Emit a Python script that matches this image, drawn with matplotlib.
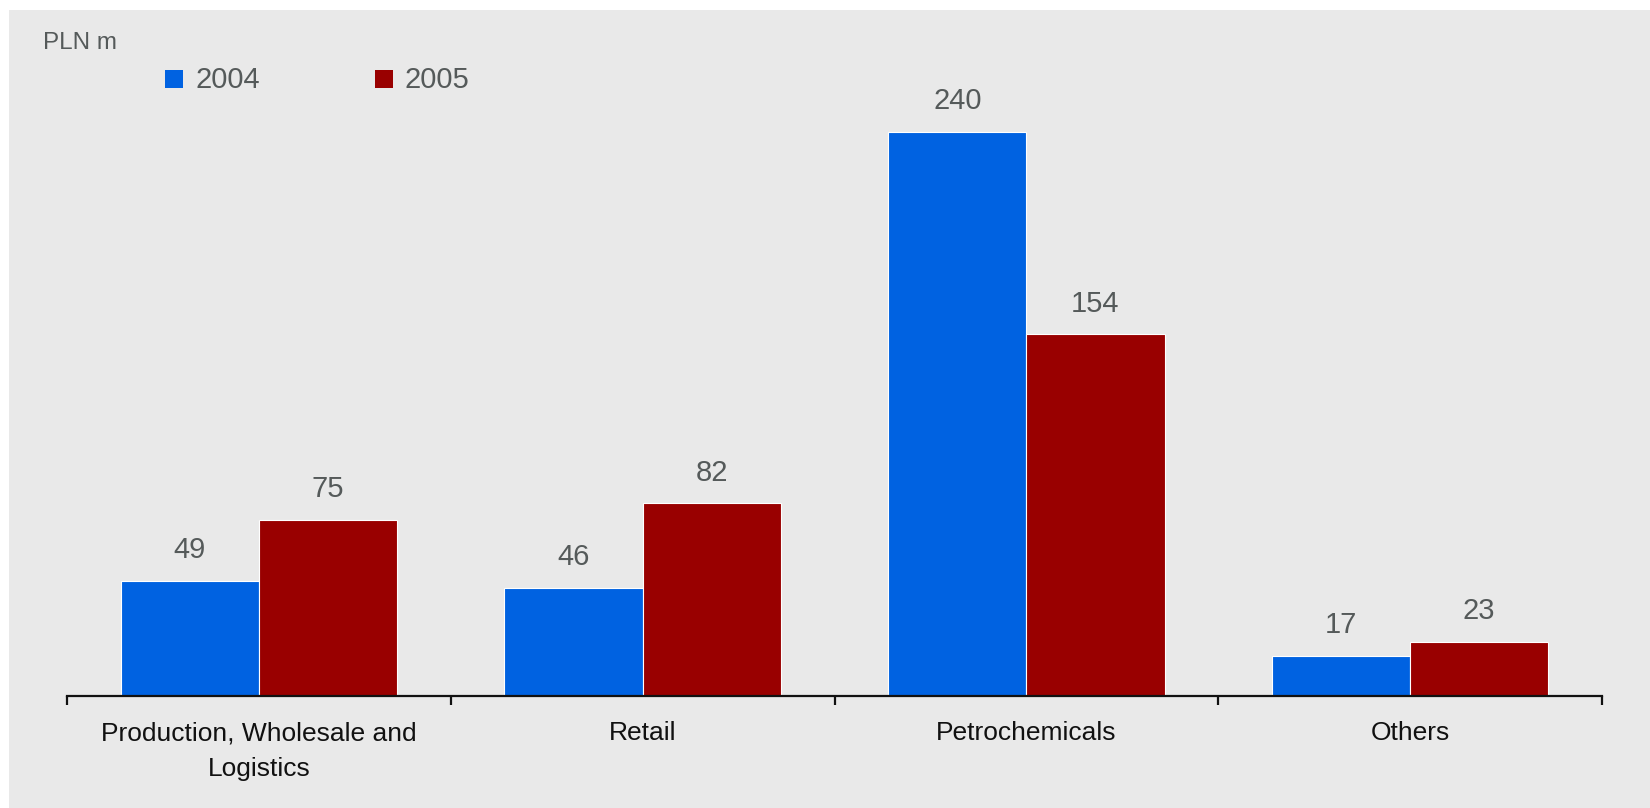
import matplotlib.pyplot as plt
import numpy as np
from matplotlib.patches import Rectangle

categories = ["Production, Wholesale and\nLogistics", "Retail", "Petrochemicals", "Others"]
years = ["2004", "2005"]
values_2004 = [49, 46, 240, 17]
values_2005 = [75, 82, 154, 23]

colors = ["#0062E1", "#990000"]
text_gray = "#555a5a"

plt.rcParams["font.family"] = ["Liberation Sans", "DejaVu Sans"]

fig = plt.figure(figsize=(16.5, 8.08), dpi=100)
fig.patch.set_facecolor("white")
# light gray panel behind the chart
fig.patches.append(Rectangle((9 / 1650, 0), 1, 1 - 10 / 808, transform=fig.transFigure,
                             facecolor="#e9e9e9", edgecolor="none", zorder=-1))

ax = fig.add_axes([67 / 1650, 1 - 696 / 808, (1602 - 67) / 1650, (696 - 30) / 808])
ax.set_facecolor("none")

x = np.arange(len(categories))
w = 0.36
bars1 = ax.bar(x - w / 2, values_2004, w, color=colors[0], edgecolor="white", linewidth=0.8, label=years[0])
bars2 = ax.bar(x + w / 2, values_2005, w, color=colors[1], edgecolor="white", linewidth=0.8, label=years[1])

for bars in (bars1, bars2):
    for b in bars:
        ax.annotate(f"{b.get_height():.0f}", (b.get_x() + b.get_width() / 2, b.get_height()),
                    xytext=(0, 22), textcoords="offset points", ha="center", va="center",
                    fontsize=21, color=text_gray)

ax.set_xlim(-0.5, len(categories) - 0.5)
ax.set_ylim(0, 283.4)

for s in ("top", "right", "left"):
    ax.spines[s].set_visible(False)
ax.spines["bottom"].set_linewidth(1.6)
ax.spines["bottom"].set_color("#111111")
ax.set_yticks([])

ax.set_xticks(x)
ax.set_xticklabels(categories, fontsize=19, color="#111111", linespacing=1.62)
ax.tick_params(axis="x", which="major", length=0, pad=18)
ax.set_xticks(np.arange(len(categories) + 1) - 0.5, minor=True)
ax.tick_params(axis="x", which="minor", length=6.5, width=1.6, color="#111111", direction="out")

fig.text(43 / 1650, 1 - 43 / 808, "PLN m", fontsize=17.5, color=text_gray, va="center", ha="left")

# legend drawn by hand to match spacing
for i, (yr, c) in enumerate(zip(years, colors)):
    x0 = (165 + i * 210) / 1650
    fig.patches.append(Rectangle((x0, 1 - 88 / 808), 18 / 1650, 18 / 808, transform=fig.transFigure,
                                 facecolor=c, edgecolor="none"))
    fig.text(x0 + 30 / 1650, 1 - 80 / 808, yr, fontsize=21, color=text_gray, va="center", ha="left")

fig.savefig("out.png", dpi=100)
